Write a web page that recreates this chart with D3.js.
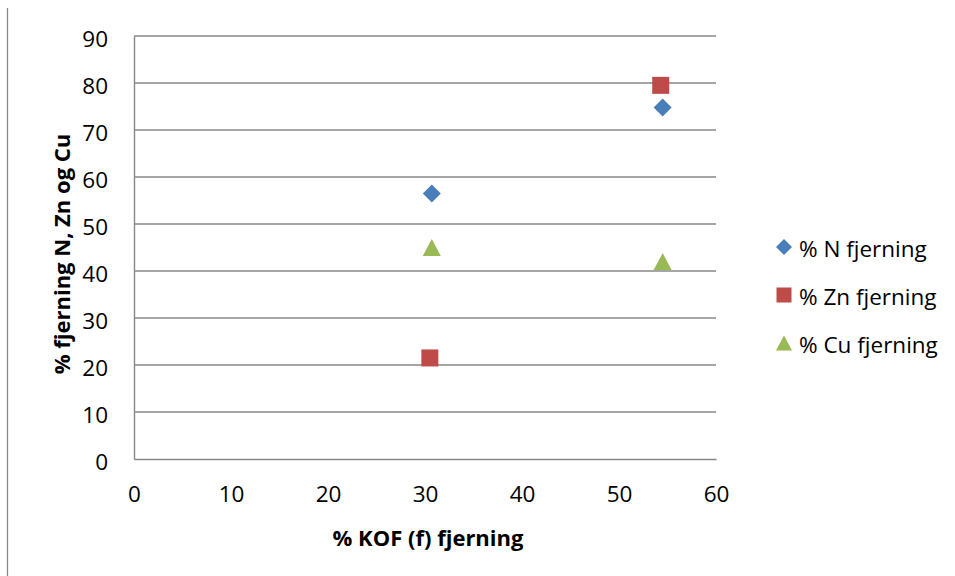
<!DOCTYPE html>
<html>
<head>
<meta charset="utf-8">
<script src="https://cdn.jsdelivr.net/npm/d3@7/dist/d3.min.js"></script>
<style>
  html, body { margin: 0; padding: 0; background: #fff; }
  svg text { font-family: "Open Sans", "Liberation Sans", sans-serif; fill: #000; }
</style>
</head>
<body>
<svg id="chart" width="955" height="576"></svg>
<script>
// Removal of N, Zn and Cu against COD removal
const seriesNames = ["% N fjerning", "% Zn fjerning", "% Cu fjerning"];
const seriesX = [[30.7, 54.5], [30.5, 54.3], [30.7, 54.5]];
const seriesY = [[56.5, 74.8], [21.5, 79.5], [45.0, 42.0]];
const seriesColors = ["#4a7ebb", "#be4b48", "#98b954"];
const xTicks = [0, 10, 20, 30, 40, 50, 60];
const yTicks = [0, 10, 20, 30, 40, 50, 60, 70, 80, 90];
const xTitle = "% KOF (f) fjerning";
const yTitle = "% fjerning N, Zn og Cu";

const svg = d3.select("#chart");
const plot = { left: 134, right: 716, top: 36, bottom: 459 };

const x = d3.scaleLinear().domain([0, 60]).range([plot.left, plot.right]);
const y = d3.scaleLinear().domain([0, 90]).range([plot.bottom, plot.top]);

// outer frame edge
svg.append("line")
  .attr("x1", 7.5).attr("x2", 7.5).attr("y1", 8).attr("y2", 576)
  .attr("stroke", "#8a8a8a").attr("stroke-width", 1.3);

// horizontal gridlines
svg.append("g")
  .selectAll("line")
  .data(yTicks.filter(d => d > 0))
  .join("line")
  .attr("x1", plot.left).attr("x2", plot.right)
  .attr("y1", d => y(d)).attr("y2", d => y(d))
  .attr("stroke", "#878787").attr("stroke-width", 1.4);

// y axis
const yAxis = svg.append("g")
  .attr("transform", `translate(${plot.left},0)`)
  .call(d3.axisLeft(y).tickValues(yTicks).tickSize(0).tickPadding(26));
yAxis.select(".domain").attr("stroke", "#878787").attr("stroke-width", 1.4);
yAxis.selectAll("text").attr("font-size", 22.5).attr("dy", "0.45em");

// x axis
const xAxis = svg.append("g")
  .attr("transform", `translate(0,${plot.bottom})`)
  .call(d3.axisBottom(x).tickValues(xTicks).tickSize(0).tickPadding(27));
xAxis.select(".domain").attr("stroke", "#878787").attr("stroke-width", 1.4);
xAxis.selectAll("text").attr("font-size", 22.5);

// axis titles
svg.append("text")
  .attr("x", 428).attr("y", 546)
  .attr("text-anchor", "middle")
  .attr("font-size", 22).attr("font-weight", "bold")
  .text(xTitle);

svg.append("text")
  .attr("transform", `translate(70,254) rotate(-90)`)
  .attr("text-anchor", "middle")
  .attr("font-size", 22).attr("font-weight", "bold")
  .text(yTitle);

function markerPath(i) {
  if (i === 0) return "M0,-9L9,0L0,9L-9,0Z";
  if (i === 1) return "M-8.5,-8.5H8.5V8.5H-8.5Z";
  return "M0,-8.5L9,8.5L-9,8.5Z";
}

const pts = seriesNames.flatMap((name, i) =>
  seriesX[i].map((xv, j) => ({ i, xv, yv: seriesY[i][j] })));

svg.append("g")
  .selectAll("path")
  .data(pts)
  .join("path")
  .attr("transform", d => `translate(${x(d.xv)},${y(d.yv)})`)
  .attr("d", d => markerPath(d.i))
  .attr("fill", d => seriesColors[d.i]);

// legend
const legend = svg.append("g");
seriesNames.forEach((name, i) => {
  const ly = 248 + i * 48;
  legend.append("path")
    .attr("transform", `translate(784,${ly - 1})`)
    .attr("d", i === 0 ? "M0,-8L8,0L0,8L-8,0Z" : i === 1 ? "M-7.5,-7.5H7.5V7.5H-7.5Z" : "M0,-7.5L8,7.5L-8,7.5Z")
    .attr("fill", seriesColors[i]);
  legend.append("text")
    .attr("x", 799).attr("y", ly)
    .attr("dy", "0.4em")
    .attr("font-size", 22.5)
    .text(name);
});
</script>
</body>
</html>
